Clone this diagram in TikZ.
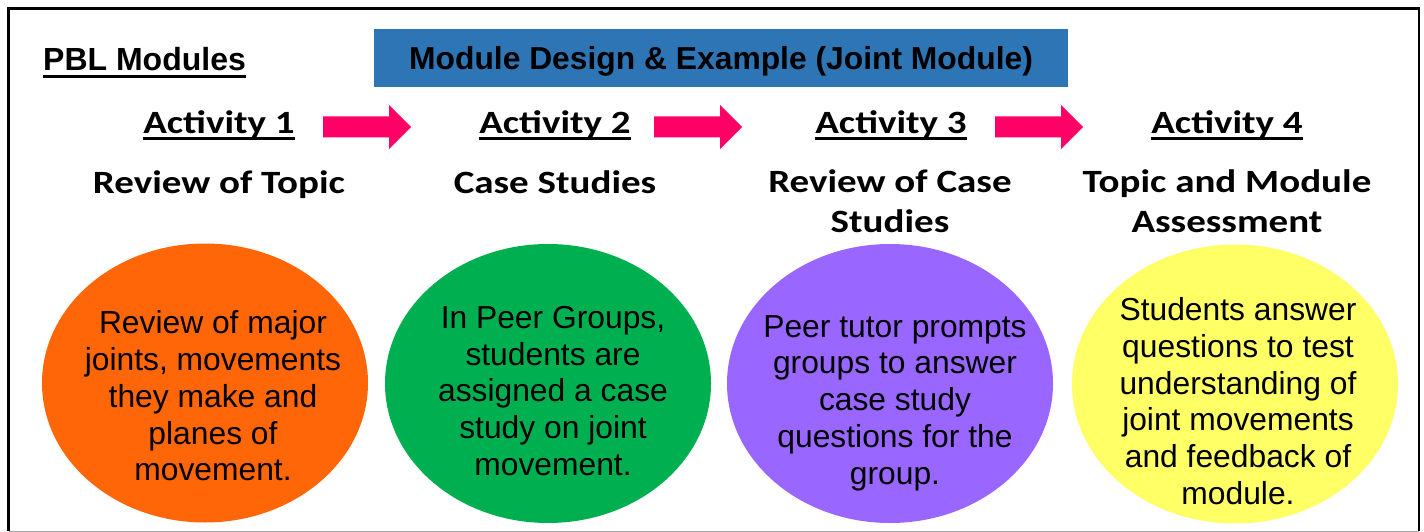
\documentclass[tikz,border=0pt]{standalone}
\usepackage{fontspec}
\setmainfont{Liberation Sans}
\newfontfamily\calfont[FakeStretch=1.2]{Carlito}
\usetikzlibrary{shapes.geometric}
\definecolor{titleblue}{HTML}{2E75B6}
\definecolor{arrowpink}{HTML}{FF0066}
\definecolor{bubbleorange}{HTML}{FF6608}
\definecolor{bubblegreen}{HTML}{00B050}
\definecolor{bubblepurple}{HTML}{9966FF}
\definecolor{bubbleyellow}{HTML}{FFFF66}
\newcommand\pblarrow[1]{%
  \fill[arrowpink] (#1,116.5) -- ++(66,0) -- ++(0,-11.5) -- ++(22,22) -- ++(-22,22) -- ++(0,-11.5) -- ++(-66,0) -- cycle;}
\begin{document}
\begin{tikzpicture}[x=1pt,y=-1pt,
  bubble/.style={ellipse, minimum width=326pt, minimum height=279pt, inner sep=0pt, draw=none},
  bubbletext/.style={align=center, inner sep=0pt, font=\fontsize{31.8}{36.7}\selectfont},
  acthead/.style={anchor=base, inner sep=0pt, font=\calfont\bfseries\fontsize{32.5}{40}\selectfont},
  actsub/.style={anchor=base, align=center, inner sep=0pt, font=\calfont\bfseries\fontsize{32.5}{40}\selectfont},
  ulrule/.style={line width=2.2pt}]
\useasboundingbox (0,0) rectangle (1424,532);
\fill[white] (0,0) rectangle (1424,532);
% frame
\draw[line width=2.5pt] (8.5,531) -- (8.5,8.5) -- (1419,8.5) -- (1419,531);
\draw[black!35, line width=1pt] (8.5,531) -- (1419,531);
% title
\node[anchor=base west, inner sep=0pt, font=\bfseries\fontsize{32}{38}\selectfont] (pbl) at (43,71) {PBL Modules};
\draw[line width=2.8pt] ([yshift=-5.5pt]pbl.base west) -- ([yshift=-5.5pt]pbl.base east);
\node[fill=titleblue, minimum width=694pt, minimum height=58pt, inner sep=0pt] (titlebox) at (721,58) {};
\node[anchor=base, inner sep=0pt, font=\bfseries\fontsize{31.8}{38}\selectfont] (titletext) at (721,70) {Module Design \& Example (Joint Module)};
% activity headings
\node[acthead] (a1) at (219,134) {Activity 1};
\node[acthead] (a2) at (555,134) {Activity 2};
\node[acthead] (a3) at (891,134) {Activity 3};
\node[acthead] (a4) at (1227,134) {Activity 4};
\foreach \n in {a1,a2,a3,a4}
  \draw[ulrule] ([yshift=-4.5pt]\n.base west) -- ([yshift=-4.5pt]\n.base east);
% arrows
\pblarrow{323}
\pblarrow{654}
\pblarrow{995}
% subtitles
\node[actsub] (s1) at (219,193) {Review of Topic};
\node[actsub] (s2) at (555,193) {Case Studies};
\node[actsub] (s3) at (890,232) {Review of Case\\Studies};
\node[actsub] (s4) at (1227,232) {Topic and Module\\Assessment};
% bubbles
\node[bubble, fill=bubbleorange] (b1) at (205,383) {};
\node[bubble, fill=bubblegreen] (b2) at (548,383.5) {};
\node[bubble, fill=bubblepurple] (b3) at (890,383.5) {};
\node[bubble, fill=bubbleyellow] (b4) at (1235,384) {};
\node[bubbletext] (t1) at (213,396) {Review of major\\joints, movements\\they make and\\planes of\\movement.};
\node[bubbletext] (t2) at (553,391) {In Peer Groups,\\students are\\assigned a case\\study on joint\\movement.};
\node[bubbletext] (t3) at (895,403) {Peer tutor prompts\\groups to answer\\case study\\questions for the\\group.};
\node[bubbletext] (t4) at (1238,401) {Students answer\\questions to test\\understanding of\\joint movements\\and feedback of\\module.};
\end{tikzpicture}
\end{document}
